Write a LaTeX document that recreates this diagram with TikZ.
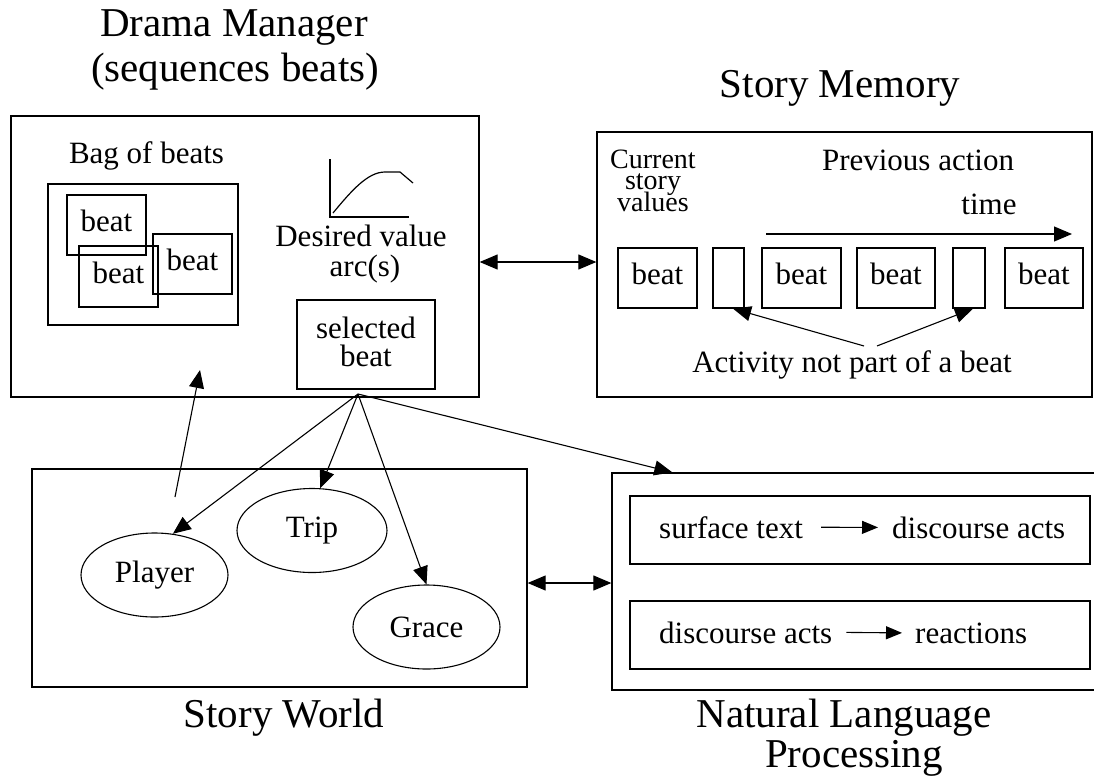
\documentclass[tikz,border=0pt]{standalone}
\usepackage{fontspec}
\setmainfont{Liberation Serif}
\usetikzlibrary{arrows.meta,shapes.geometric,calc}
\begin{document}
\begin{tikzpicture}[x=1pt,y=-1pt,
  box/.style={draw,line width=1.3pt,rectangle,inner sep=0pt},
  txt/.style={inner sep=0pt,font=\fontsize{31}{28}\selectfont},
  beatbox/.style={box,txt,minimum height=60pt,text depth=8pt},
  ttl/.style={inner sep=0pt,anchor=base,font=\fontsize{41}{41}\selectfont},
  lbl/.style={inner sep=0pt,anchor=base,font=\fontsize{31}{28}\selectfont},
  tight/.style={inner sep=0pt,anchor=base,font=\fontsize{28}{26}\selectfont},
  arr/.style={line width=1.1pt,-{Triangle[length=18pt,width=15pt]}},
  smallarr/.style={line width=1.1pt,-{Triangle[length=16pt,width=13pt]}},
  dbl/.style={line width=1.1pt,{Triangle[length=18pt,width=15pt]}-{Triangle[length=18pt,width=15pt]}},
  ell/.style={draw,ellipse,line width=1.1pt,inner sep=0pt,minimum width=147pt,minimum height=84pt,font=\fontsize{31}{28}\selectfont}
]
\useasboundingbox (0,0) rectangle (1094,782);

% ---------- titles ----------
\node[ttl] (t1) at (234,36) {Drama Manager};
\node[ttl] (t2) at (235,81) {(sequences beats)};
\node[ttl] (t3) at (840,97) {Story Memory};
\node[ttl] (t4) at (284,727) {Story World};
\node[ttl] (t5) at (844,727) {Natural Language};
\node[ttl] (t6) at (854,767) {Processing};

% ---------- Drama Manager ----------
\node[box,minimum width=468pt,minimum height=281pt] (dm) at (245,256.5) {};
\node[lbl] (bagl) at (146.5,163) {Bag of beats};
\node[box,minimum width=190pt,minimum height=141pt] (bag) at (143,254.5) {};
\node[beatbox,minimum width=79pt] (b1) at (106.5,225) {beat};
\node[beatbox,minimum width=79pt,minimum height=61pt] (b2) at (118.5,276.5) {beat};
\node[beatbox,minimum width=79pt] (b3) at (192.5,264) {beat};
% desired value arc graph
\draw[line width=1.2pt] (330,159) -- (330,217) -- (409,217);
\draw[line width=1.2pt] (333,213) .. controls (352,190) and (368,172) .. (385,172) -- (400,172) -- (413,183);
\node[lbl] (dv1) at (361,246) {Desired value};
\node[lbl] (dv2) at (365,276) {arc(s)};
\node[box,txt,align=center,minimum width=138pt,minimum height=89pt,text depth=6pt] (sel) at (366,344.5) {selected\\beat};

% ---------- Story Memory ----------
\node[box,minimum width=495pt,minimum height=265pt] (sm) at (844.5,264.5) {};
\node[tight] (cv1) at (653,168) {Current};
\node[tight] (cv2) at (653,189) {story};
\node[tight] (cv3) at (653,211) {values};
\node[lbl] (prev) at (918,170) {Previous action};
\node[lbl] (time) at (989,214) {time};
\coordinate (ts) at (766,234);
\coordinate (te) at (1072,234);
\draw[arr] (ts) -- (te);
\node[beatbox,minimum width=79pt] (m1) at (657.5,278) {beat};
\node[box,minimum width=31pt,minimum height=60pt] (m2) at (728.5,278) {};
\node[beatbox,minimum width=79pt] (m3) at (801.5,278) {beat};
\node[beatbox,minimum width=78pt] (m4) at (896,278) {beat};
\node[box,minimum width=32pt,minimum height=60pt] (m5) at (969,278) {};
\node[beatbox,minimum width=78pt] (m6) at (1044,278) {beat};
\node[lbl] (act) at (852,372) {Activity not part of a beat};
\draw[arr] ([xshift=12pt,yshift=4pt]act.north) -- ([xshift=4.5pt]m2.south);
\draw[arr] ([xshift=25pt,yshift=4pt]act.north) -- ([xshift=4pt]m5.south);

% ---------- Story World ----------
\node[box,minimum width=495pt,minimum height=218pt] (sw) at (279.5,578) {};
\node[ell] (player) at (154.5,575) {Player};
\node[ell,minimum width=150pt] (trip) at (312,530.5) {Trip};
\node[ell] (grace) at (426.5,627) {Grace};

% ---------- Natural Language Processing ----------
\node[box,minimum width=485pt,minimum height=217pt] (nlp) at (854.5,581.5) {};
\node[box,minimum width=460pt,minimum height=68pt] (n1) at (860,530) {};
\node[box,minimum width=460pt,minimum height=68pt] (n2) at (860,635) {};
\node[lbl,anchor=base west] (s1) at (659,538) {surface text};
\node[lbl,anchor=base west] (s2) at (892,538) {discourse acts};
\node[lbl,anchor=base west] (s3) at (659,643) {discourse acts};
\node[lbl,anchor=base west] (s4) at (915,643) {reactions};
\draw[smallarr] ([xshift=18pt]s1.east) -- ([xshift=-14pt]s2.west);
\draw[smallarr] ([xshift=14pt]s3.east) -- ([xshift=-13pt]s4.west);

% ---------- connectors ----------
\draw[dbl] (dm.east |- 0,262) -- (sm.west |- 0,262);
\draw[dbl] (sw.east |- 0,583) -- (nlp.west |- 0,583);
\coordinate (src) at (358,394);
\draw[arr] (src) -- (player.66);
\draw[arr] (src) -- (trip.79);
\draw[arr] (src) -- (grace.north);
\draw[arr] (src) -- ($(nlp.north west)+(61,0)$);
\coordinate (upA) at (175,497);
\coordinate (upB) at (200,370);
\draw[arr] (upA) -- (upB);
\end{tikzpicture}
\end{document}
